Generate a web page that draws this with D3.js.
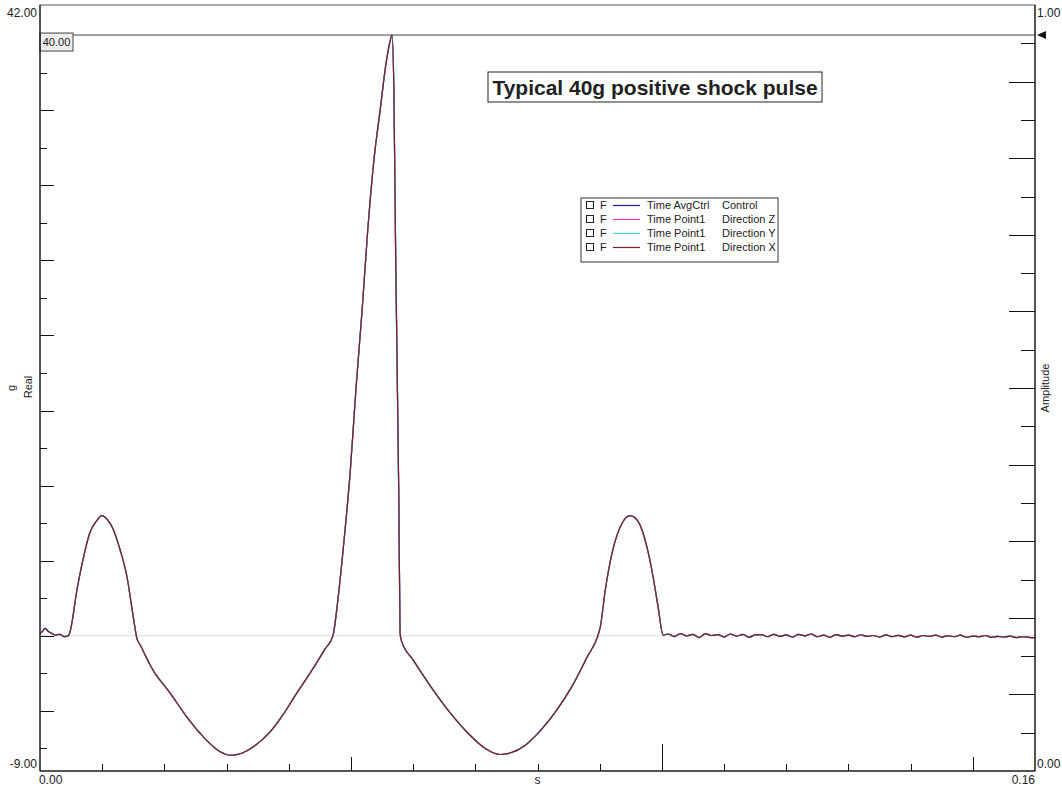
<!DOCTYPE html>
<html lang="en">
<head>
    <meta charset="UTF-8">
    <title>Typical 40g positive shock pulse</title>
    <script src="https://d3js.org/d3.v7.min.js"></script>
    <style>
        body { margin: 0; background: #fff; }
        text { font-family: Arial, "Liberation Sans", sans-serif; fill: #222; }
    </style>
</head>
<body>
    <svg width="1062" height="789"></svg>
    <script>
        // time (s) and acceleration (g)
        const timeS = [0, 0.0004, 0.0008, 0.0013, 0.0019, 0.0025, 0.0032, 0.0039, 0.0045,
            0.0047, 0.0060, 0.0068, 0.0080, 0.0090, 0.0100, 0.0108, 0.0116, 0.0129, 0.0140, 0.0150, 0.0156, 0.0161,
            0.0182, 0.0209, 0.0236, 0.0262, 0.0289, 0.0306, 0.0322, 0.0346, 0.0370, 0.0390, 0.0410, 0.0434, 0.0458, 0.0471,
            0.0479, 0.0489, 0.0499, 0.0508, 0.0518, 0.0527, 0.0537, 0.0547, 0.0556, 0.0563, 0.0566,
            0.0569, 0.0572, 0.0577, 0.0579, 0.0581,
            0.0600, 0.0627, 0.0659, 0.0691, 0.0716, 0.0740, 0.0756, 0.0780, 0.0805, 0.0830, 0.0855, 0.0880, 0.0897,
            0.0901, 0.0909, 0.0921, 0.0936, 0.0949, 0.0962, 0.0976, 0.0986, 0.0994, 0.1002,
            0.1010, 0.1020, 0.1030, 0.1040, 0.1050, 0.1060, 0.1070, 0.1080, 0.1090, 0.1100,
            0.1110, 0.1120, 0.1130, 0.1140, 0.1150, 0.1160, 0.1170, 0.1180, 0.1190, 0.1200,
            0.1210, 0.1220, 0.1230, 0.1240, 0.1250, 0.1260, 0.1270, 0.1280, 0.1290, 0.1300,
            0.1310, 0.1320, 0.1330, 0.1340, 0.1350, 0.1360, 0.1370, 0.1380, 0.1390, 0.1400,
            0.1410, 0.1420, 0.1430, 0.1440, 0.1450, 0.1460, 0.1470, 0.1480, 0.1490, 0.1500,
            0.1510, 0.1520, 0.1530, 0.1540, 0.1550, 0.1560, 0.1570, 0.1580, 0.1590, 0.1600];
        const accelG = [0.15, 0.3, 0.5, 0.3, 0.15, 0.05, 0.1, -0.05, 0.0,
            0.1, 3.2, 4.85, 6.85, 7.6, 8.0, 7.75, 7.25, 5.7, 3.9, 1.25, -0.2, -0.6,
            -2.3, -3.8, -5.4, -6.7, -7.7, -7.95, -7.85, -7.3, -6.4, -5.3, -4.0, -2.5, -0.9, 0.0,
            2.4, 6.4, 11.0, 16.4, 21.7, 27.0, 31.7, 35.0, 38.0, 39.6, 40.0,
            36.5, 25.0, 9.1, 0.2, -0.3,
            -1.6, -3.3, -5.1, -6.6, -7.5, -7.9, -7.8, -7.3, -6.3, -5.0, -3.4, -1.4, 0.0,
            0.6, 3.05, 5.7, 7.5, 8.0, 7.6, 5.9, 3.9, 1.9, 0.05,
            0.12, -0.05, 0.15, 0.0, 0.1, -0.12, 0.14, 0.02, 0.08, -0.08,
            0.12, -0.02, 0.1, -0.1, 0.06, 0.08, -0.06, 0.1, -0.04, 0.06,
            -0.08, 0.1, 0.0, 0.12, -0.06, 0.04, -0.1, 0.08, -0.02, 0.05,
            -0.06, 0.07, -0.04, 0.02, -0.08, 0.06, -0.05, 0.03, -0.07, 0.04,
            -0.09, 0.02, -0.04, 0.05, -0.08, 0.0, -0.06, 0.04, -0.1, -0.02,
            -0.06, 0.02, -0.1, -0.04, -0.08, -0.02, -0.12, -0.06, -0.1, -0.12];

        const seriesNames = ["Time AvgCtrl", "Time Point1", "Time Point1", "Time Point1"];
        const seriesDirs = ["Control", "Direction Z", "Direction Y", "Direction X"];
        const seriesColors = ["#1c1c84", "#e03cc0", "#3cd8e0", "#7a1e28"];

        const xDomain = [0, 0.16];
        const yDomain = [-9, 42];
        const ampDomain = [0, 1];
        const refLevel = 40;

        const svg = d3.select("svg");
        const pl = 40, pr = 1035, pt = 5, pb = 771;

        const x = d3.scaleLinear().domain(xDomain).range([pl, pr]);
        const y = d3.scaleLinear().domain(yDomain).range([pb, pt]);
        const yAmp = d3.scaleLinear().domain(ampDomain).range([pb, pt]);

        const points = timeS.map((t, i) => ({t: t, g: accelG[i]}));

        // zero line
        svg.append("line")
            .attr("x1", pl).attr("x2", pr)
            .attr("y1", y(0)).attr("y2", y(0))
            .attr("stroke", "#dcdcdc").attr("stroke-width", 1);

        // traces, X drawn last
        const line = d3.line().curve(d3.curveMonotoneX).x(d => x(d.t)).y(d => y(d.g));
        seriesColors.forEach(c => {
            svg.append("path")
                .datum(points)
                .attr("fill", "none")
                .attr("stroke", c)
                .attr("stroke-width", 1.2)
                .attr("d", line);
        });

        // reference level line + label box
        svg.append("line")
            .attr("x1", pl).attr("x2", pr)
            .attr("y1", y(refLevel)).attr("y2", y(refLevel))
            .attr("stroke", "#444").attr("stroke-width", 1);
        svg.append("rect")
            .attr("x", pl).attr("y", y(refLevel) - 2)
            .attr("width", 33).attr("height", 18)
            .attr("fill", "#eeeeee").attr("stroke", "#444");
        svg.append("text")
            .attr("x", pl + 16.5).attr("y", y(refLevel) + 11)
            .attr("text-anchor", "middle").attr("font-size", 11)
            .text(refLevel.toFixed(2));
        svg.append("path")
            .attr("d", `M${pr + 2},${y(refLevel)} l9,-4 l0,8 z`)
            .attr("fill", "#111");

        // frame
        svg.append("rect")
            .attr("x", pl).attr("y", pt)
            .attr("width", pr - pl).attr("height", pb - pt)
            .attr("fill", "none").attr("stroke", "#555");
        svg.append("line").attr("x1", pl).attr("x2", pl).attr("y1", pt).attr("y2", pb).attr("stroke", "#000");
        svg.append("line").attr("x1", pr).attr("x2", pr).attr("y1", pt).attr("y2", pb).attr("stroke", "#000");
        svg.append("line").attr("x1", pl).attr("x2", pr).attr("y1", pb).attr("y2", pb).attr("stroke", "#000");

        // left ticks (every 2.5 g, longer at 5 g)
        const leftTicks = d3.range(-7.5, 40, 2.5);
        svg.append("g").selectAll("line").data(leftTicks).join("line")
            .attr("x1", pl).attr("x2", d => pl + (Math.abs(d % 5) < 1e-9 ? 14 : 7))
            .attr("y1", d => Math.round(y(d)) + 0.5).attr("y2", d => Math.round(y(d)) + 0.5)
            .attr("stroke", "#111");

        // right ticks (every 0.05, longer at 0.1)
        const rightTicks = d3.range(1, 20).map(i => i / 20);
        svg.append("g").selectAll("line").data(rightTicks).join("line")
            .attr("x1", pr).attr("x2", (d, i) => pr - ((i + 1) % 2 === 0 ? 26 : 14))
            .attr("y1", d => Math.round(yAmp(d)) + 0.5).attr("y2", d => Math.round(yAmp(d)) + 0.5)
            .attr("stroke", "#111");

        // bottom ticks (every 0.01 s)
        const bottomTicks = d3.range(1, 16).map(i => i / 100);
        svg.append("g").selectAll("line").data(bottomTicks).join("line")
            .attr("x1", d => Math.round(x(d)) + 0.5).attr("x2", d => Math.round(x(d)) + 0.5)
            .attr("y1", pb)
            .attr("y2", (d, i) => pb - ((i + 1) === 10 ? 27 : ((i + 1) % 5 === 0 ? 14 : 7)))
            .attr("stroke", "#111");

        // end labels
        const fs = 12;
        svg.append("text").attr("x", pl - 3).attr("y", 17).attr("text-anchor", "end").attr("font-size", fs).text(yDomain[1].toFixed(2));
        svg.append("text").attr("x", pl - 3).attr("y", 768).attr("text-anchor", "end").attr("font-size", fs).text(yDomain[0].toFixed(2));
        svg.append("text").attr("x", pr + 2).attr("y", 17).attr("font-size", fs).text(ampDomain[1].toFixed(2));
        svg.append("text").attr("x", pr + 2).attr("y", 768).attr("font-size", fs).text(ampDomain[0].toFixed(2));
        svg.append("text").attr("x", pl - 1).attr("y", 784).attr("font-size", fs).text(xDomain[0].toFixed(2));
        svg.append("text").attr("x", pr).attr("y", 784).attr("text-anchor", "end").attr("font-size", fs).text(xDomain[1].toFixed(2));
        svg.append("text").attr("x", x(0.08)).attr("y", 784).attr("text-anchor", "middle").attr("font-size", fs).text("s");

        // axis titles
        svg.append("text").attr("transform", "translate(15,388) rotate(-90)")
            .attr("text-anchor", "middle").attr("font-size", 11).text("g");
        svg.append("text").attr("transform", "translate(32,387) rotate(-90)")
            .attr("text-anchor", "middle").attr("font-size", 11).text("Real");
        svg.append("text").attr("transform", "translate(1049,388) rotate(-90)")
            .attr("text-anchor", "middle").attr("font-size", 11).text("Amplitude");

        // title box
        svg.append("rect").attr("x", 488).attr("y", 72).attr("width", 334).attr("height", 30)
            .attr("fill", "#fff").attr("stroke", "#222");
        svg.append("text").attr("x", 655).attr("y", 94.5).attr("text-anchor", "middle")
            .attr("font-size", 21).attr("font-weight", "bold").attr("fill", "#000")
            .text("Typical 40g positive shock pulse");

        // legend
        const lg = svg.append("g");
        lg.append("rect").attr("x", 581).attr("y", 198).attr("width", 197).attr("height", 64)
            .attr("fill", "#fff").attr("stroke", "#333");
        seriesColors.forEach((c, i) => {
            const cy = 205 + i * 14;
            lg.append("rect").attr("x", 586.5).attr("y", cy - 3.5).attr("width", 7).attr("height", 7)
                .attr("fill", "none").attr("stroke", "#222");
            lg.append("text").attr("x", 600).attr("y", cy + 4).attr("font-size", 11).text("F");
            lg.append("line").attr("x1", 613).attr("x2", 640).attr("y1", cy + 0.5).attr("y2", cy + 0.5)
                .attr("stroke", c).attr("stroke-width", 1.2);
            lg.append("text").attr("x", 647).attr("y", cy + 4).attr("font-size", 11).text(seriesNames[i]);
            lg.append("text").attr("x", 722).attr("y", cy + 4).attr("font-size", 11).text(seriesDirs[i]);
        });
    </script>
</body>
</html>
